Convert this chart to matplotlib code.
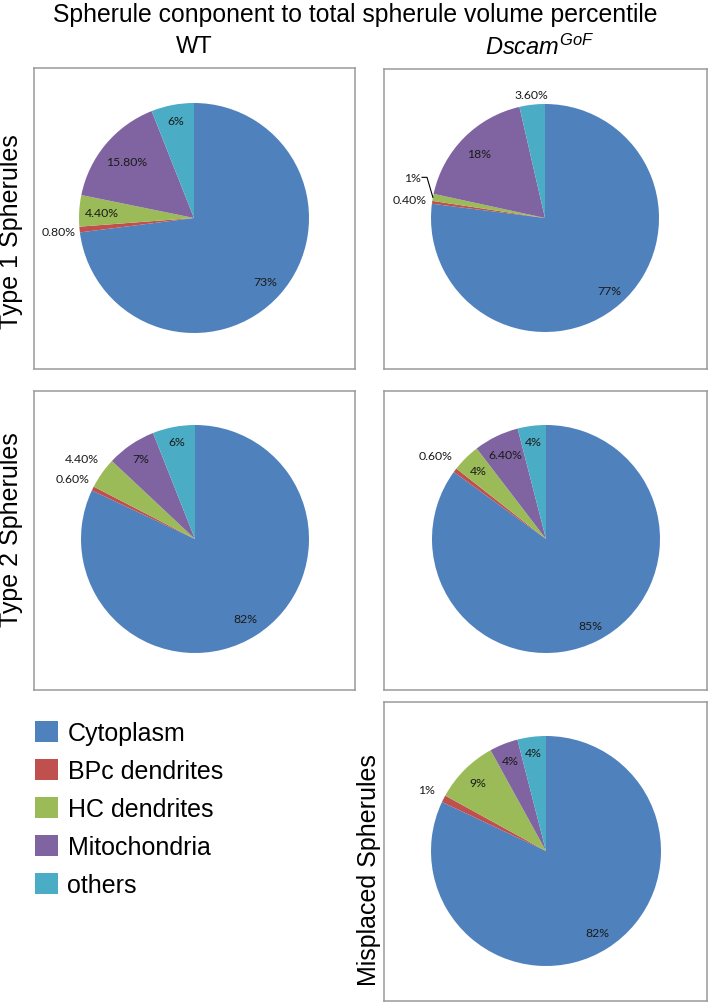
import numpy as np
import matplotlib
matplotlib.use("Agg")
import matplotlib.pyplot as plt
from matplotlib.patches import Patch

plt.rcParams['font.family'] = ['Liberation Sans', 'DejaVu Sans']
plt.rcParams['mathtext.fontset'] = 'custom'
plt.rcParams['mathtext.rm'] = 'Liberation Sans'
plt.rcParams['mathtext.it'] = 'Liberation Sans:italic'

# data
components = ["Cytoplasm", "BPc dendrites", "HC dendrites", "Mitochondria", "others"]
colors = ["#4F81BD", "#C0504D", "#9BBB59", "#8064A2", "#4BACC6"]

wt_type1 = [73, 0.8, 4.4, 15.8, 6]
wt_type1_lbl = ["73%", "0.80%", "4.40%", "15.80%", "6%"]
gof_type1 = [77, 0.4, 1, 18, 3.6]
gof_type1_lbl = ["77%", "0.40%", "1%", "18%", "3.60%"]
wt_type2 = [82, 0.6, 4.4, 7, 6]
wt_type2_lbl = ["82%", "0.60%", "4.40%", "7%", "6%"]
gof_type2 = [85, 0.6, 4, 6.4, 4]
gof_type2_lbl = ["85%", "0.60%", "4%", "6.40%", "4%"]
gof_misplaced = [82, 1, 9, 4, 4]
gof_misplaced_lbl = ["82%", "1%", "9%", "4%", "4%"]

W, H = 709, 1004
fig = plt.figure(figsize=(W / 100, H / 100), dpi=100)

# box (x0, y0, x1, y1) in pixels, pie centre + radius, label distances
panels = [
    (wt_type1, wt_type1_lbl, (34, 69, 355, 370), (194, 219, 115), [0.83, 1.18, 0.80, 0.76, 0.86]),
    (gof_type1, gof_type1_lbl, (384, 70, 707, 370), (545, 219, 114), [0.85, 1.2, 1.22, 0.81, 1.09]),
    (wt_type2, wt_type2_lbl, (34, 392, 355, 691), (195, 540, 114), [0.83, 1.2, 1.22, 0.85, 0.87]),
    (gof_type2, gof_type2_lbl, (384, 392, 707, 691), (546, 540, 114), [0.85, 1.21, 0.85, 0.82, 0.86]),
    (gof_misplaced, gof_misplaced_lbl, (384, 703, 707, 1002), (546, 852, 115), [0.84, 1.17, 0.84, 0.85, 0.86]),
]

for k, (vals, lbls, box, pie_geo, dists) in enumerate(panels):
    x0, y0, x1, y1 = box
    cx, cy, r = pie_geo
    ax = fig.add_axes([x0 / W, 1 - y1 / H, (x1 - x0) / W, (y1 - y0) / H])
    wedges, _ = ax.pie(vals, colors=colors, startangle=90, counterclock=False,
                       center=(cx, H - cy), radius=r, frame=True,
                       wedgeprops=dict(linewidth=0))
    for i, (w, lab, d) in enumerate(zip(wedges, lbls, dists)):
        ang = np.deg2rad((w.theta1 + w.theta2) / 2)
        if k == 1 and i == 2:
            # leader line for the 1% slice
            ang_t = np.deg2rad(163)
            tx, ty = cx + d * r * np.cos(ang_t), H - cy + d * r * np.sin(ang_t)
            ex, ey = cx + r * np.cos(ang), H - cy + r * np.sin(ang)
            ax.plot([tx + 10, tx + 15, ex], [ty, ty, ey], color="black", lw=0.8)
        else:
            tx, ty = cx + d * r * np.cos(ang), H - cy + d * r * np.sin(ang)
        ax.text(tx, ty, lab, ha="center", va="center", fontsize=8.8,
                family=["Lato", "DejaVu Sans"], color="#1a1a1a")
    ax.set_xlim(x0, x1)
    ax.set_ylim(H - y1, H - y0)
    ax.set_aspect("auto")
    ax.set_xticks([])
    ax.set_yticks([])
    for s in ax.spines.values():
        s.set_color("#9a9a9a")
        s.set_linewidth(1.1)

fig.text(355 / W, 1 - 15 / H, "Spherule conponent to total spherule volume percentile",
         ha="center", va="center", fontsize=17.8)
fig.text(194 / W, 1 - 47 / H, "WT", ha="center", va="center", fontsize=17)
fig.text(540 / W, 1 - 47 / H, r"$\mathit{Dscam}^{\mathit{GoF}}$", ha="center", va="center", fontsize=17)

fig.text(11 / W, 1 - 232 / H, "Type 1 Spherules", rotation=90, ha="center", va="center", fontsize=18)
fig.text(11 / W, 1 - 530 / H, "Type 2 Spherules", rotation=90, ha="center", va="center", fontsize=18)
fig.text(369 / W, 1 - 870 / H, "Misplaced Spherules", rotation=90, ha="center", va="center", fontsize=18)

handles = [Patch(facecolor=c, edgecolor="none") for c in colors]
fig.legend(handles, components, loc="upper left", bbox_to_anchor=(35 / W, 1 - 722 / H),
           frameon=False, fontsize=18, handlelength=0.9, handleheight=0.9,
           handletextpad=0.4, labelspacing=0.56, borderpad=0, borderaxespad=0)

fig.savefig("out.png", dpi=100)
